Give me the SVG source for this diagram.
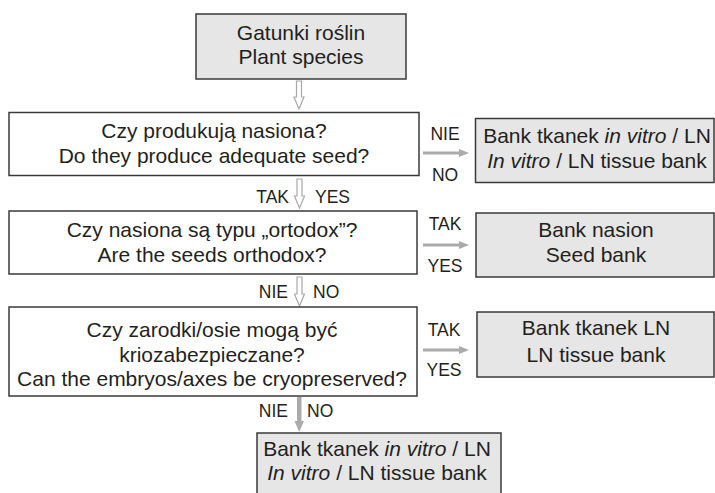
<svg xmlns="http://www.w3.org/2000/svg" width="715" height="493" viewBox="0 0 715 493">
<style>
.box{fill:#ffffff;stroke:#3a3a3a;stroke-width:1.5}
.res{fill:#e6e6e6;stroke:#3a3a3a;stroke-width:1.5}
.t{font-family:"Liberation Sans",Arial,sans-serif;font-size:21px;fill:#231f20;text-anchor:middle}
.l{font-family:"Liberation Sans",Arial,sans-serif;font-size:17.5px;fill:#231f20}
.hol{fill:#ffffff;stroke:#a8a8a8;stroke-width:1.2}
.fil{fill:#ababab;stroke:none}
.it{font-style:italic}
</style>
<rect width="715" height="493" fill="#ffffff"/>
<g id="connectors">
  <path class="hol" d="M296.5,81 H301.5 V97 H304 L299,109 L294,97 H296.5 Z"/>
  <path class="hol" d="M297,179 H302 V196 H304.5 L299.5,208 L294.5,196 H297 Z"/>
  <path class="hol" d="M297,277 H302 V294 H304.5 L299.5,306 L294.5,294 H297 Z"/>
  <path class="fil" d="M297,397 H301.5 V421 H304 L299.2,432 L294.5,421 H297 Z"/>
  <path class="fil" d="M423,151.5 H459 V149 L469,153 L459,157 V154.5 H423 Z"/>
  <path class="fil" d="M423,243.5 H459 V241 L469,245 L459,249 V246.5 H423 Z"/>
  <path class="fil" d="M423,348.5 H459 V346 L469,350 L459,354 V351.5 H423 Z"/>
  <text class="l" x="445" y="140" text-anchor="middle">NIE</text>
  <text class="l" x="445" y="181" text-anchor="middle">NO</text>
  <text class="l" x="445" y="230" text-anchor="middle">TAK</text>
  <text class="l" x="445" y="272" text-anchor="middle">YES</text>
  <text class="l" x="444" y="336" text-anchor="middle">TAK</text>
  <text class="l" x="444" y="376" text-anchor="middle">YES</text>
  <text class="l" x="289" y="203" text-anchor="end">TAK</text>
  <text class="l" x="315" y="203">YES</text>
  <text class="l" x="288" y="298" text-anchor="end">NIE</text>
  <text class="l" x="313" y="298">NO</text>
  <text class="l" x="288" y="417" text-anchor="end">NIE</text>
  <text class="l" x="307" y="417">NO</text>
</g>
<g id="start">
  <rect class="res" x="196" y="14" width="210" height="65"/>
  <text class="t" x="301" y="40">Gatunki roślin</text>
  <text class="t" x="301" y="64">Plant species</text>
</g>
<g id="q1">
  <rect class="box" x="9" y="112.5" width="410" height="63"/>
  <text class="t" x="214" y="138">Czy produkują nasiona?</text>
  <text class="t" x="214" y="163">Do they produce adequate seed?</text>
</g>
<g id="r1">
  <rect class="res" x="475.5" y="118.5" width="238.5" height="64"/>
  <text class="t" x="597" y="143">Bank tkanek <tspan class="it">in vitro</tspan> / LN</text>
  <text class="t" x="597" y="168"><tspan class="it">In vitro</tspan> / LN tissue bank</text>
</g>
<g id="q2">
  <rect class="box" x="9" y="211" width="408" height="63"/>
  <text class="t" x="212" y="237">Czy nasiona są typu „ortodox”?</text>
  <text class="t" x="212" y="262">Are the seeds orthodox?</text>
</g>
<g id="r2">
  <rect class="res" x="476" y="213" width="238" height="64"/>
  <text class="t" x="596" y="237">Bank nasion</text>
  <text class="t" x="596" y="262">Seed bank</text>
</g>
<g id="q3">
  <rect class="box" x="9" y="307" width="408" height="89"/>
  <text class="t" x="212" y="337">Czy zarodki/osie mogą być</text>
  <text class="t" x="212" y="361.5">kriozabezpieczane?</text>
  <text class="t" x="212" y="386">Can the embryos/axes be cryopreserved?</text>
</g>
<g id="r3">
  <rect class="res" x="477" y="312" width="237" height="65"/>
  <text class="t" x="596" y="335">Bank tkanek LN</text>
  <text class="t" x="596" y="362">LN tissue bank</text>
</g>
<g id="r4">
  <rect class="res" x="257" y="433" width="244" height="70"/>
  <text class="t" x="377" y="456">Bank tkanek <tspan class="it">in vitro</tspan> / LN</text>
  <text class="t" x="377" y="480"><tspan class="it">In vitro</tspan> / LN tissue bank</text>
</g>
</svg>
